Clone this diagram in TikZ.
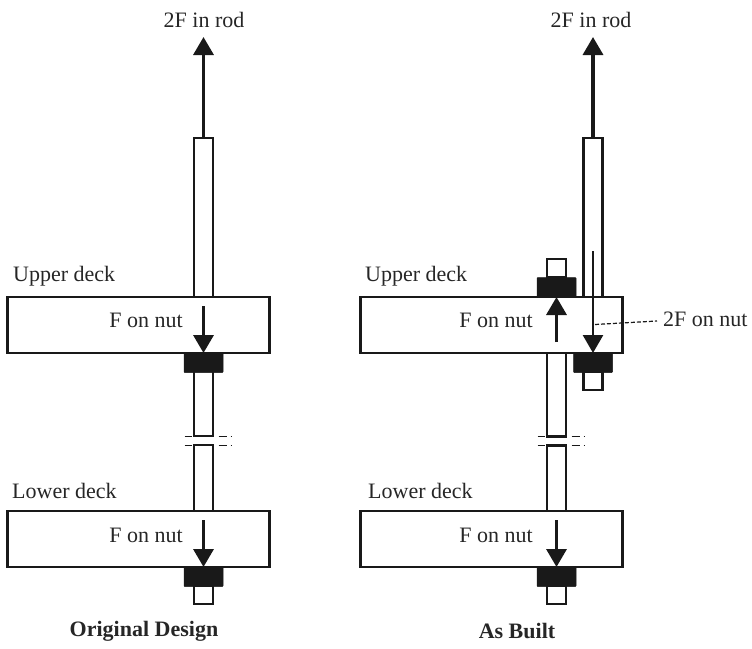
\documentclass[tikz,border=0pt]{standalone}
\usepackage{fontspec}
\setmainfont{Liberation Serif}
\usetikzlibrary{arrows.meta,positioning}
\tikzset{
    partbase/.style={
        rectangle,
        draw=black!90,
        line width=2.2pt,
        fill=white,
        outer sep=0pt,
        inner sep=0pt
    },
    decknode/.style={partbase, minimum width=262pt, minimum height=56pt},
    rodnode/.style={partbase, minimum width=19pt},
    nutnode/.style={partbase, fill=black!90, line width=0.5pt, rounded corners=0.8pt, minimum width=39pt, minimum height=19.5pt},
    label/.style={font=\fontsize{22}{24}\selectfont, text=black!85, inner sep=0pt},
    title/.style={label, font=\fontsize{22}{24}\selectfont\bfseries},
    force/.style={-{Triangle[length=18pt,width=20pt]}, line width=3.4pt, draw=black!90},
    thinforce/.style={force, line width=2.6pt},
    leader/.style={dashed, dash pattern=on 4pt off 2pt, line width=1.2pt, draw=black!90},
    breaktick/.style={line width=0.9pt, draw=black!90},
}
\begin{document}
\begin{tikzpicture}[x=1pt, y=-1pt]
    \useasboundingbox (0,0) rectangle (752,648);

    % original design
    \node[rodnode, minimum height=159pt] (rodA) at (203.5,217.5) {};
    \node[rodnode, minimum height=84pt, below=55pt of rodA] (rodB) {};
    \node[rodnode, minimum height=66pt, below=9pt of rodB] (rodC) {};
    \node[decknode] (upperA) at (138.5,325) {};
    \node[decknode, below=158pt of upperA] (lowerA) {};
    \node[nutnode, below=0pt of upperA.south -| rodB] (nutA) {};
    \node[rodnode, minimum height=18pt, below=19pt of lowerA.south -| rodC] (stubA) {};
    \node[nutnode, below=0pt of lowerA.south -| rodC] (nutB) {};

    % as built
    \node[rodnode, minimum height=159pt] (rodD) at (593,217.5) {};
    \node[rodnode, minimum height=84pt] (rodE) at (556.5,394.5) {};
    \node[rodnode, minimum height=66pt, below=9pt of rodE] (rodF) {};
    \node[rodnode, minimum height=18pt] (stubB) at (556.5,268) {};
    \node[rodnode, minimum height=18pt] (stubC) at (593,381) {};
    \node[decknode] (upperB) at (491.5,325) {};
    \node[decknode, below=158pt of upperB] (lowerB) {};
    \node[nutnode, above=0pt of upperB.north -| rodE] (nutC) {};
    \node[nutnode, below=0pt of upperB.south -| rodD] (nutD) {};
    \node[rodnode, minimum height=18pt, below=19pt of lowerB.south -| rodF] (stubD) {};
    \node[nutnode, below=0pt of lowerB.south -| rodF] (nutE) {};

    % labels
    \node[label] (rodtextA) at (204,20) {2F in rod};
    \node[label] (rodtextB) at (591,20) {2F in rod};
    \node[label, anchor=west] (uppertextA) at (13,276) {Upper deck};
    \node[label, anchor=west] (uppertextB) at (365,276) {Upper deck};
    \node[label, anchor=west] (lowertextA) at (12,491) {Lower deck};
    \node[label, anchor=west] (lowertextB) at (368,491) {Lower deck};
    \node[label, anchor=east] (nuttextA) at (183,320) {F on nut};
    \node[label, anchor=east] (nuttextB) at (183,535) {F on nut};
    \node[label, anchor=east] (nuttextC) at (533,320) {F on nut};
    \node[label, anchor=east] (nuttextD) at (533,535) {F on nut};
    \node[label, anchor=west] (nuttextE) at (663,319) {2F on nut};
    \node[title] (titleA) at (144,631) {Original Design};
    \node[title] (titleB) at (517,631) {As Built};

    % free ends of the arrows
    \coordinate (tipA) at (203.5,37);
    \coordinate (tipB) at (593,37);
    \coordinate (startA) at (203.5,306);
    \coordinate (startB) at (203.5,520);
    \coordinate (startC) at (556.5,342);
    \coordinate (startD) at (556.5,520);
    \coordinate (startE) at (593,251);
    \coordinate (leadA) at (595,324.5);
    \coordinate (leadB) at (657,321);

    \draw[force] (rodA.north) -- (tipA);
    \draw[force] (rodD.north) -- (tipB);
    \draw[force] (startA) -- (nutA.north);
    \draw[force] (startB) -- (nutB.north);
    \draw[force] (startC) -- (nutC.south);
    \draw[force] (startD) -- (nutE.north);
    \draw[thinforce] (startE) -- (nutD.north);
    \draw[leader] (leadA) -- (leadB);

    % break marks
    \foreach \cut in {rodB.south, rodC.north, rodE.south, rodF.north} {
        \draw[breaktick] ([xshift=-19pt]\cut) -- ([xshift=-12pt]\cut);
        \draw[breaktick] ([xshift=15pt]\cut) -- ([xshift=23pt]\cut);
        \draw[breaktick] ([xshift=27pt]\cut) -- ([xshift=28.5pt]\cut);
    }
\end{tikzpicture}
\end{document}
